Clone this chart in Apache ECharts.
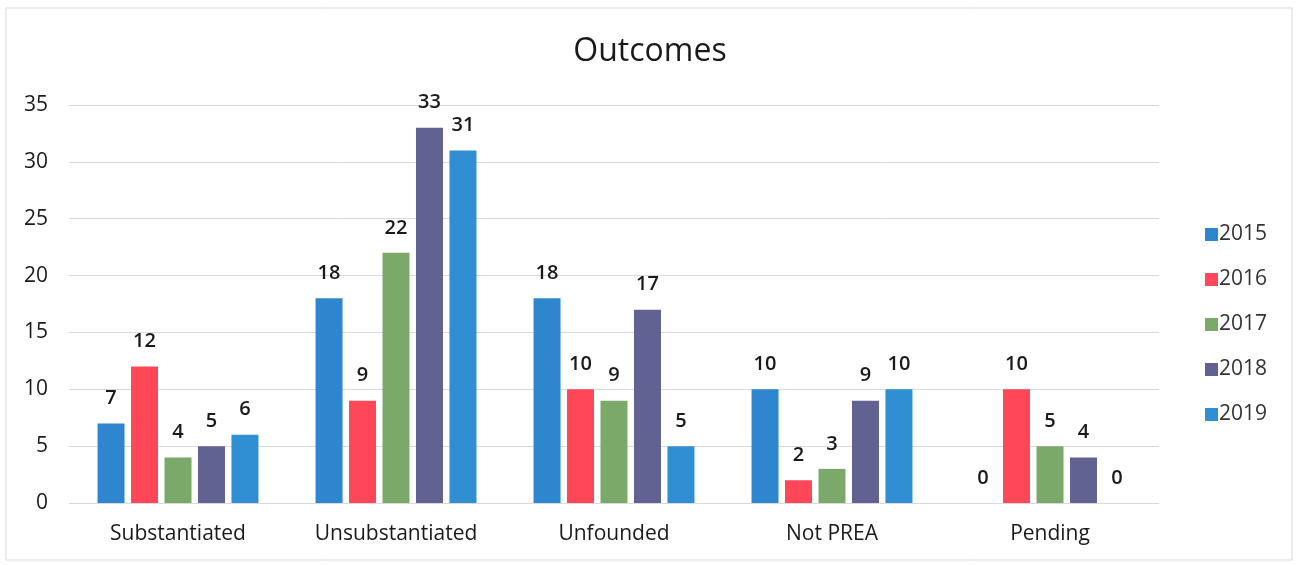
<!DOCTYPE html>
<html><head><meta charset="utf-8">
<script src="https://cdn.jsdelivr.net/npm/echarts@6/dist/echarts.min.js"></script>
<style>html,body{margin:0;padding:0;background:#fff}#c{width:1300px;height:565px}</style>
</head><body><div id="c"></div>
<script>
const categories = ['Substantiated','Unsubstantiated','Unfounded','Not PREA','Pending'];
const years = ['2015','2016','2017','2018','2019'];
const s2015 = [7,18,18,10,0];
const s2016 = [12,9,10,2,10];
const s2017 = [4,22,9,3,5];
const s2018 = [5,33,17,9,4];
const s2019 = [6,31,5,10,0];
const yTicks = [0,5,10,15,20,25,30,35];
const colors = ['#2E86CE','#FF4757','#7BA96A','#616192','#2F8FD2'];
const seriesData = [s2015,s2016,s2017,s2018,s2019];
const font = 'Open Sans, Liberation Sans, sans-serif';
const chart = echarts.init(document.getElementById('c'));
chart.setOption({
  animation:false,
  title:{text:'Outcomes',left:'center',top:31,textStyle:{fontFamily:font,fontSize:32,fontWeight:'normal',color:'#1a1a1a'}},
  graphic:[{type:'rect',shape:{x:6,y:8,width:1286,height:552},style:{fill:'none',stroke:'#d9d9d9',lineWidth:1}}],
  legend:{orient:'vertical',left:1200,top:219,itemWidth:13,itemHeight:13,itemGap:24,icon:'rect',
    textStyle:{fontFamily:font,fontSize:21,color:'#333',padding:[0,0,0,-4]},data:years},
  grid:{left:69,right:141,top:105,bottom:62},
  xAxis:{type:'category',data:categories,axisLine:{show:false},axisTick:{show:false},
    axisLabel:{margin:21,fontFamily:font,fontSize:21,color:'#1a1a1a'}},
  yAxis:{type:'value',min:0,max:35,interval:5,
    axisLabel:{margin:21,fontFamily:font,fontSize:21,color:'#1a1a1a',
      formatter:v=>yTicks.includes(v)?String(v):''},
    splitLine:{lineStyle:{color:'#d9d9d9',width:1}},axisLine:{show:false},axisTick:{show:false}},
  series:seriesData.map((d,i)=>({name:years[i],type:'bar',data:d,barWidth:27,barGap:'24%',
    itemStyle:{color:colors[i]},
    label:{show:true,position:'top',distance:15,fontFamily:font,fontSize:20,fontWeight:600,color:'#1a1a1a'}}))
});
</script></body></html>
